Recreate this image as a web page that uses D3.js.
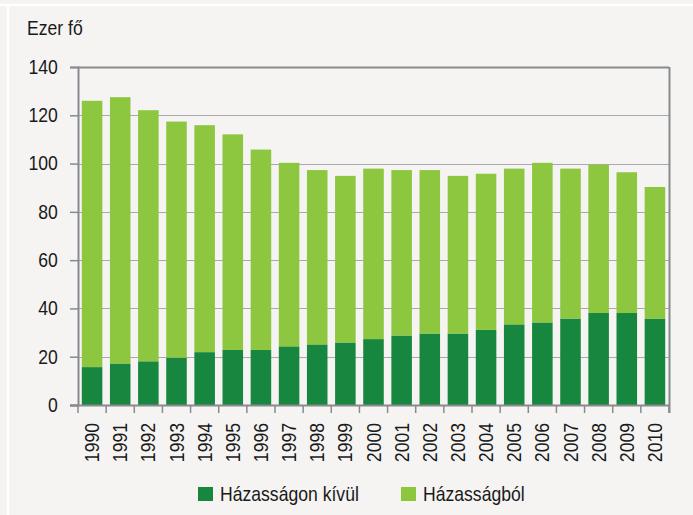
<!DOCTYPE html>
<html>
<head>
<meta charset="utf-8">
<script src="https://cdn.jsdelivr.net/npm/d3@7"></script>
<style>
  body { margin: 0; background: #f5f4f2; }
  svg text { font-family: "Liberation Sans", Arial, sans-serif; fill: #1a1a1a; }
</style>
</head>
<body>
<script>
// data (ezer fő)
var years = ['1990','1991','1992','1993','1994','1995','1996','1997','1998','1999','2000',
             '2001','2002','2003','2004','2005','2006','2007','2008','2009','2010'];
var outside = [15.7, 17.2, 18.1, 19.6, 21.9, 22.8, 22.8, 24.3, 25.1, 25.9, 27.3,
               28.8, 29.6, 29.6, 31.1, 33.4, 34.2, 35.8, 38.1, 38.1, 35.8];
var totals = [126.0, 127.5, 122.1, 117.4, 115.9, 112.1, 105.8, 100.3, 97.3, 94.9, 97.9,
              97.3, 97.3, 94.9, 95.8, 97.9, 100.3, 97.9, 99.6, 96.4, 90.3];
var yTicks = [0, 20, 40, 60, 80, 100, 120, 140];
var seriesNames = ['Házasságon kívül', 'Házasságból'];
var colors = ['#17873f', '#8dc63f'];

var W = 693, H = 515;
var m = { left: 78, right: 24, top: 67, bottom: 110 };
var squeeze = 'scale(0.88,1)'; // the original font is a bit narrower

var svg = d3.select('body').append('svg').attr('width', W).attr('height', H);
svg.append('rect').attr('width', W).attr('height', H).attr('fill', '#f5f4f2');
// thin white frame lines
svg.append('rect').attr('x', 0).attr('y', 4).attr('width', W).attr('height', 2).attr('fill', '#ffffff');
svg.append('rect').attr('x', 7).attr('y', 4).attr('width', 2).attr('height', H).attr('fill', '#ffffff');

var rows = years.map(function (y, i) {
  return { year: y, outside: outside[i], inside: totals[i] - outside[i] };
});
var stack = d3.stack().keys(['outside', 'inside'])(rows);

var x = d3.scaleBand().domain(years).range([m.left, W - m.right]).paddingInner(0.27).paddingOuter(0.135);
var y = d3.scaleLinear().domain([0, 140]).range([H - m.bottom, m.top]);

// gridlines
svg.append('g').selectAll('line').data(yTicks.slice(1)).join('line')
  .attr('x1', m.left).attr('x2', W - m.right)
  .attr('y1', function (d) { return Math.round(y(d)) + 0.5; })
  .attr('y2', function (d) { return Math.round(y(d)) + 0.5; })
  .attr('stroke', function (d) { return d === 140 ? '#888a8e' : '#a7a9ac'; })
  .attr('stroke-width', function (d) { return d === 140 ? 2 : 1.2; });

// bars
svg.append('g').selectAll('g').data(stack).join('g')
  .attr('fill', function (d, i) { return colors[i]; })
  .selectAll('rect').data(function (d) { return d; }).join('rect')
  .attr('x', function (d) { return x(d.data.year); })
  .attr('width', x.bandwidth())
  .attr('y', function (d) { return y(d[1]); })
  .attr('height', function (d) { return y(d[0]) - y(d[1]); });

// right border
svg.append('line')
  .attr('x1', W - m.right + 0.5).attr('x2', W - m.right + 0.5)
  .attr('y1', m.top).attr('y2', H - m.bottom + 8)
  .attr('stroke', '#888a8e').attr('stroke-width', 2);

// y axis
var yAxis = svg.append('g').attr('transform', 'translate(' + m.left + ',0)')
  .call(d3.axisLeft(y).tickValues(yTicks).tickSize(8).tickPadding(15));
yAxis.select('.domain').attr('stroke', '#888a8e').attr('stroke-width', 2);
yAxis.selectAll('.tick line').attr('stroke', '#888a8e').attr('stroke-width', 1.5);
yAxis.selectAll('.tick text').attr('font-size', 20).attr('fill', '#1a1a1a')
  .attr('transform', squeeze)
  .style('font-family', '"Liberation Sans", Arial, sans-serif');

// x axis with ticks between categories
var xg = svg.append('g').attr('transform', 'translate(0,' + (H - m.bottom) + ')');
xg.append('line').attr('x1', m.left - 8).attr('x2', W - m.right)
  .attr('y1', 0.5).attr('y2', 0.5).attr('stroke', '#888a8e').attr('stroke-width', 2);
var step = x.step();
var bounds = d3.range(years.length + 1).map(function (i) { return m.left + i * step; });
xg.selectAll('line.tk').data(bounds).join('line').attr('class', 'tk')
  .attr('x1', function (d) { return d; }).attr('x2', function (d) { return d; })
  .attr('y1', 0).attr('y2', 8).attr('stroke', '#888a8e').attr('stroke-width', 1.5);
xg.selectAll('text').data(years).join('text')
  .attr('transform', function (d) {
    return 'translate(' + (x(d) + x.bandwidth() / 2 + 7) + ',18) rotate(-90) ' + squeeze;
  })
  .attr('text-anchor', 'end')
  .attr('font-size', 20)
  .text(function (d) { return d; });

// unit label
svg.append('text').attr('transform', 'translate(27,35) ' + squeeze).attr('font-size', 20).text('Ezer fő');

// legend
var legendX = [198, 401];
var lg = svg.append('g').selectAll('g').data(seriesNames).join('g')
  .attr('transform', function (d, i) { return 'translate(' + legendX[i] + ',487)'; });
lg.append('rect').attr('width', 15).attr('height', 14).attr('fill', function (d, i) { return colors[i]; });
lg.append('text').attr('transform', 'translate(22,13.5) ' + squeeze).attr('font-size', 20)
  .text(function (d) { return d; });
</script>
</body>
</html>
